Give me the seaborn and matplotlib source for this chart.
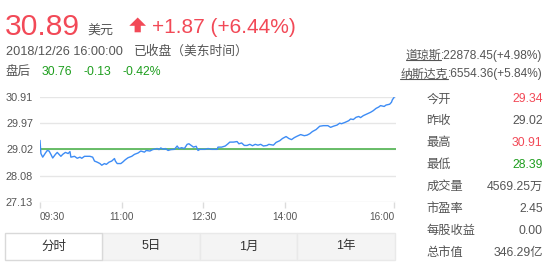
import matplotlib
matplotlib.use("Agg")
import matplotlib.pyplot as plt
from matplotlib.patches import Rectangle, Polygon
from matplotlib.lines import Line2D
import seaborn as sns
import pandas as pd

# ---------------- data ----------------
times = ["09:30", "09:31", "09:33", "09:36", "09:38", "09:40", "09:42", "09:44", "09:47", "09:49",
         "09:51", "09:53", "09:55", "09:58", "10:01", "10:03", "10:04", "10:08", "10:11", "10:14",
         "10:16", "10:19", "10:25", "10:28", "10:30", "10:33", "10:36", "10:38", "10:41", "10:43",
         "10:46", "10:49", "10:52", "10:53", "10:55", "10:59", "11:01", "11:04", "11:07", "11:11",
         "11:14", "11:18", "11:21", "11:25", "11:27", "11:31", "11:34", "11:39", "11:41", "11:43",
         "11:46", "11:48", "11:51", "11:54", "11:58", "12:01", "12:03", "12:06", "12:09", "12:12",
         "12:14", "12:16", "12:19", "12:22", "12:24", "12:26", "12:32", "12:35", "12:39", "12:45",
         "12:46", "12:50", "12:54", "12:57", "12:59", "13:03", "13:07", "13:09", "13:12", "13:15",
         "13:18", "13:21", "13:24", "13:27", "13:30", "13:33", "13:36", "13:40", "13:42", "13:47",
         "13:50", "13:54", "13:57", "14:01", "14:04", "14:07", "14:10", "14:13", "14:17", "14:21",
         "14:24", "14:27", "14:30", "14:34", "14:38", "14:42", "14:47", "14:50", "14:53", "14:57",
         "15:00", "15:02", "15:06", "15:10", "15:12", "15:15", "15:18", "15:21", "15:23", "15:26",
         "15:30", "15:34", "15:37", "15:40", "15:43", "15:45", "15:49", "15:51", "15:55", "15:57",
         "15:58", "16:00"]
prices = [29.34, 28.87, 28.74, 28.89, 28.98, 28.96, 28.84, 28.71, 28.84, 28.91,
          28.84, 28.77, 28.84, 28.91, 28.87, 28.94, 28.74, 28.77, 28.70, 28.74,
          28.70, 28.77, 28.77, 28.74, 28.60, 28.56, 28.51, 28.45, 28.51, 28.48,
          28.56, 28.60, 28.69, 28.60, 28.51, 28.51, 28.56, 28.65, 28.72, 28.77,
          28.84, 28.89, 28.96, 28.92, 28.98, 28.96, 29.01, 29.05, 29.01, 29.07,
          29.02, 29.05, 28.98, 29.01, 29.02, 29.14, 29.05, 29.08, 29.05, 29.20,
          29.22, 29.17, 29.10, 29.13, 28.98, 29.02, 29.02, 29.05, 29.02, 29.02,
          29.10, 29.10, 29.14, 29.22, 29.28, 29.28, 29.30, 29.22, 29.25, 29.16,
          29.16, 29.20, 29.15, 29.20, 29.17, 29.20, 29.14, 29.16, 29.20, 29.17,
          29.27, 29.33, 29.41, 29.48, 29.41, 29.37, 29.44, 29.49, 29.55, 29.51,
          29.53, 29.58, 29.66, 29.73, 29.85, 29.87, 29.87, 29.81, 29.85, 29.89,
          29.96, 29.94, 29.99, 30.05, 30.11, 30.09, 30.17, 30.20, 30.16, 30.23,
          30.29, 30.35, 30.41, 30.49, 30.54, 30.59, 30.56, 30.61, 30.64, 30.71,
          30.80, 30.89]
prev_close = 29.02
y_ticks = [27.13, 28.08, 29.02, 29.97, 30.91]
x_tick_labels = ["09:30", "11:00", "12:30", "14:00", "16:00"]

price_now = "30.89"
change_text = "+1.87 (+6.44%)"
datetime_text = "2018/12/26 16:00:00"
status_text = "已收盘（美东时间）"
after_label = "盘后"
after_values = ["30.76", "-0.13", "-0.42%"]
index_names = ["道琼斯", "纳斯达克"]
index_values = [":22878.45(+4.98%)", ":6554.36(+5.84%)"]
stat_labels = ["今开", "昨收", "最高", "最低", "成交量", "市盈率", "每股收益", "总市值"]
stat_values = ["29.34", "29.02", "30.91", "28.39", "4569.25万", "2.45", "0.00", "346.29亿"]
stat_kinds = ["up", "flat", "up", "down", "flat", "flat", "flat", "flat"]
tabs = ["分时", "5日", "1月", "1年"]

# ---------------- style ----------------
sns.set_theme(style="white")
plt.rcParams["font.family"] = ["Liberation Sans", "Noto Sans CJK SC", "DejaVu Sans"]

RED = "#f24957"
GREEN = "#1e9e1e"
GRAY = "#555555"
LINE_BLUE = "#3d8cf5"
LINE_GREEN = "#5cb85c"
GRID = "#e6e6e6"

W, H = 552, 265
fig = plt.figure(figsize=(W / 100, H / 100), dpi=100)
fig.patch.set_facecolor("white")


def fx(px):
    return px / W


def fy(py):
    return 1 - py / H


def to_minutes(t):
    h, m = t.split(":")
    return (int(h) - 9) * 60 + int(m) - 30


df = pd.DataFrame({"minute": [to_minutes(t) for t in times], "price": prices})

# ---------------- chart ----------------
ax = fig.add_axes([fx(40), fy(202), fx(396) - fx(40), fy(96.7) - fy(202)])
ax.set_facecolor("white")
for y in y_ticks:
    ax.axhline(y, color=GRID, lw=1, zorder=0)
ax.axhline(prev_close, color=LINE_GREEN, lw=1.3, zorder=1)
sns.lineplot(data=df, x="minute", y="price", ax=ax, color=LINE_BLUE, lw=1.0, zorder=2)
ax.set_xlim(0, 392)
ax.set_ylim(y_ticks[0], y_ticks[-1])
for s in ax.spines.values():
    s.set_visible(False)
ax.set_xlabel("")
ax.set_ylabel("")
ax.set_yticks(y_ticks)
ax.set_yticklabels([f"{v:.2f}" for v in y_ticks])
ax.set_xticks([to_minutes(t) for t in x_tick_labels])
ax.set_xticklabels(x_tick_labels)
ax.tick_params(axis="y", length=0, pad=5, labelsize=7.8, labelcolor=GRAY)
ax.tick_params(axis="x", length=4, width=1, color="#dcdcdc", direction="out",
               pad=3, labelsize=7.2, labelcolor=GRAY, bottom=True)
xt = ax.get_xticklabels()
xt[0].set_horizontalalignment("left")
xt[-1].set_horizontalalignment("right")
ax.grid(False)

# ---------------- header ----------------
fig.text(fx(5), fy(35), price_now, color=RED, fontsize=21.6, va="baseline", ha="left")
fig.text(fx(87), fy(35), "美元", color=GRAY, fontsize=9.4, va="baseline", ha="left")
arrow = Polygon([(fx(129.3), fy(25.8)), (fx(137.7), fy(17.5)), (fx(146), fy(25.8)),
                 (fx(140.8), fy(25.8)), (fx(140.8), fy(32.3)), (fx(134.6), fy(32.3)),
                 (fx(134.6), fy(25.8))],
                closed=True, transform=fig.transFigure, facecolor=RED, edgecolor="none")
fig.patches.append(arrow)
fig.text(fx(152), fy(32.7), change_text, color=RED, fontsize=15, va="baseline", ha="left")
fig.text(fx(6), fy(55), datetime_text, color=GRAY, fontsize=9.2, va="baseline", ha="left")
fig.text(fx(134), fy(55), status_text, color=GRAY, fontsize=9.2, va="baseline", ha="left")
fig.text(fx(6), fy(75), after_label, color=GRAY, fontsize=9.0, va="baseline", ha="left")
for xv, txt in zip([41.5, 83, 122.5], after_values):
    fig.text(fx(xv), fy(75), txt, color=GREEN, fontsize=8.8, va="baseline", ha="left")

# ---------------- indices (right top) ----------------
fig.canvas.draw()
renderer = fig.canvas.get_renderer()
for name, val, yb in zip(index_names, index_values, [58.5, 77.5]):
    t_val = fig.text(fx(542.7), fy(yb), val, color=GRAY, fontsize=8.6, va="baseline", ha="right")
    bb = t_val.get_window_extent(renderer=renderer)
    x_left = bb.x0 / fig.bbox.width
    t_name = fig.text(x_left, fy(yb), name, color=GRAY, fontsize=8.6, va="baseline", ha="right")
    bbn = t_name.get_window_extent(renderer=renderer)
    fig.lines.append(Line2D([bbn.x0 / fig.bbox.width, bbn.x1 / fig.bbox.width],
                            [fy(yb + 1.5), fy(yb + 1.5)], transform=fig.transFigure,
                            color=GRAY, lw=0.8))

# ---------------- stats table ----------------
colors = {"up": RED, "down": GREEN, "flat": GRAY}
row_y = [99.3, 120.7, 143, 165.3, 187, 209, 231, 252.7]
for lab, val, kind, yc in zip(stat_labels, stat_values, stat_kinds, row_y):
    fig.text(fx(426.5), fy(yc), lab, color=GRAY, fontsize=8.8, va="center", ha="left")
    fig.text(fx(542.7), fy(yc), val, color=colors[kind], fontsize=8.8, va="center", ha="right")

# ---------------- tabs ----------------
tab_edges = [5, 102, 200, 297, 395]
for i, name in enumerate(tabs):
    x0, x1 = tab_edges[i], tab_edges[i + 1]
    if i == 0:
        fc, ec = "white", "#d9d9d9"
    else:
        fc, ec = "#f4f4f4", "#e9e9e9"
    rect = Rectangle((fx(x0), fy(259.5)), fx(x1) - fx(x0), fy(233) - fy(259.5),
                     transform=fig.transFigure, facecolor=fc, edgecolor=ec, lw=1,
                     zorder=1 if i else 2)
    fig.patches.append(rect)
    fig.text(fx((x0 + x1) / 2), fy(246.5), name, color="#333333", fontsize=9.0,
             va="center", ha="center")

fig.savefig("out.png", dpi=100, facecolor="white")
